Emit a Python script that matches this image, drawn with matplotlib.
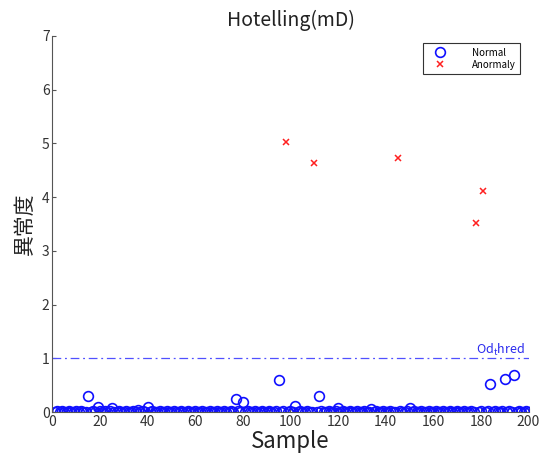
import matplotlib.pyplot as plt
import numpy as np

plt.rcParams['font.family'] = ['Noto Sans CJK JP', 'DejaVu Sans']

# Hotelling anomaly score per sample (1..200)
samples = np.arange(1, 201)
scores = [
    0.01, 0.02, 0.01, 0.02, 0.01, 0.01, 0.02, 0.01, 0.01, 0.02,
    0.01, 0.02, 0.01, 0.01, 0.30, 0.01, 0.02, 0.01, 0.10, 0.02,
    0.01, 0.02, 0.01, 0.02, 0.07, 0.01, 0.01, 0.02, 0.01, 0.01,
    0.02, 0.01, 0.01, 0.02, 0.01, 0.04, 0.01, 0.02, 0.01, 0.09,
    0.01, 0.02, 0.01, 0.01, 0.02, 0.01, 0.01, 0.02, 0.01, 0.01,
    0.02, 0.01, 0.01, 0.02, 0.01, 0.01, 0.02, 0.01, 0.01, 0.02,
    0.01, 0.01, 0.02, 0.01, 0.01, 0.02, 0.01, 0.01, 0.02, 0.01,
    0.01, 0.02, 0.01, 0.01, 0.02, 0.01, 0.24, 0.02, 0.01, 0.19,
    0.01, 0.02, 0.01, 0.01, 0.02, 0.01, 0.01, 0.02, 0.01, 0.01,
    0.02, 0.01, 0.01, 0.02, 0.59, 0.01, 0.02, 5.03, 0.01, 0.02,
    0.01, 0.11, 0.01, 0.02, 0.01, 0.01, 0.02, 0.01, 0.01, 4.63,
    0.01, 0.30, 0.02, 0.01, 0.01, 0.02, 0.01, 0.01, 0.02, 0.07,
    0.01, 0.02, 0.01, 0.01, 0.02, 0.01, 0.01, 0.02, 0.01, 0.01,
    0.02, 0.01, 0.01, 0.06, 0.01, 0.02, 0.01, 0.01, 0.02, 0.01,
    0.01, 0.02, 0.01, 0.01, 4.73, 0.02, 0.01, 0.01, 0.02, 0.07,
    0.01, 0.02, 0.01, 0.01, 0.02, 0.01, 0.01, 0.02, 0.01, 0.01,
    0.02, 0.01, 0.01, 0.02, 0.01, 0.01, 0.02, 0.01, 0.01, 0.02,
    0.01, 0.01, 0.02, 0.01, 0.01, 0.02, 0.01, 3.52, 0.01, 0.02,
    4.11, 0.01, 0.02, 0.53, 0.01, 0.02, 0.01, 0.01, 0.02, 0.61,
    0.01, 0.02, 0.01, 0.69, 0.01, 0.02, 0.01, 0.01, 0.02, 0.01,
]
anomaly_samples = [98, 110, 145, 178, 181]
threshold = 1.0

scores = np.array(scores)
is_anom = np.isin(samples, anomaly_samples)

fig = plt.figure(figsize=(5.46, 4.59), dpi=100)
ax = fig.add_axes([0.096, 0.102, 0.872, 0.82])

ax.plot(samples[~is_anom], scores[~is_anom], 'o', color='#1010ff', mfc='none',
        markersize=7, markeredgewidth=1.2, label='Normal')
ax.plot(samples[is_anom], scores[is_anom], 'x', color='#ff2020',
        markersize=5, markeredgewidth=1.1, label='Anormaly')
ax.plot([0, 200], [threshold, threshold], color='#5050ff', linewidth=0.9,
        dashes=(7, 3, 1.5, 3))
ax.text(178, threshold + 0.09, '$\\mathregular{Od_thred}$', color='#2a2aee', fontsize=9)

ax.set_xlim(0, 200)
ax.set_ylim(0, 7)
ax.set_xticks(range(0, 201, 20))
ax.set_yticks(range(0, 8))
ax.spines['top'].set_visible(False)
ax.spines['right'].set_visible(False)
for s in ('left', 'bottom'):
    ax.spines[s].set_color('#555555')
ax.tick_params(direction='in', length=3, colors='#555555', labelsize=10, pad=2)
for lab in ax.get_xticklabels() + ax.get_yticklabels():
    lab.set_color('#333333')

ax.set_title('Hotelling(mD)', fontsize=14, color='#222222', pad=7)
ax.set_xlabel('Sample', fontsize=16, color='#222222', labelpad=1)
ax.set_ylabel('異常度', fontsize=15, color='#222222', labelpad=4)

leg = ax.legend(loc='upper right', bbox_to_anchor=(0.987, 0.985), fontsize=7,
                fancybox=False, edgecolor='#333333', framealpha=1,
                handlelength=2.6, handletextpad=2.0, borderpad=0.45,
                labelspacing=0.2, borderaxespad=0.2)
leg.get_frame().set_linewidth(0.8)

fig.savefig('out.png', dpi=100)
